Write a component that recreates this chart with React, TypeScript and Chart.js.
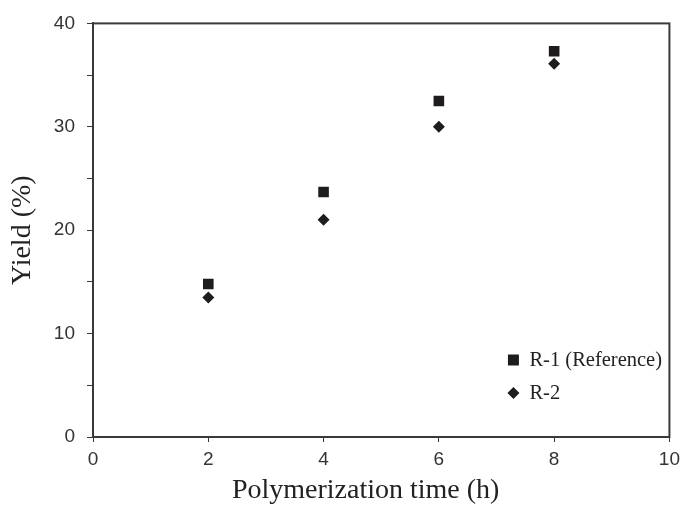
import React, { useEffect, useRef } from "react";
import { Chart, registerables } from "chart.js";

Chart.register(...registerables);

const timesH = [2, 4, 6, 8];
const yieldR1 = [14.8, 23.7, 32.5, 37.3];
const yieldR2 = [13.5, 21.0, 30.0, 36.1];
const seriesNames = ["R-1 (Reference)", "R-2"];
const xTitle = "Polymerization time (h)";
const yTitle = "Yield (%)";

const AXIS = "#3a3a3a";
const TICK_TXT = "#333333";
const MARK = "#1e1c1d";
const SERIF = "'Liberation Serif', 'Times New Roman', serif";
const SANS = "'Liberation Sans', Arial, sans-serif";

const boxAndLegend = {
  id: "boxAndLegend",
  afterDatasetsDraw(chart: any) {
    const { ctx, chartArea } = chart;
    ctx.save();
    ctx.strokeStyle = AXIS;
    ctx.lineWidth = 2;
    ctx.strokeRect(chartArea.left, chartArea.top, chartArea.right - chartArea.left, chartArea.bottom - chartArea.top);
    // x axis title (slightly left of centre, as in the original)
    ctx.fillStyle = "#222222";
    ctx.font = `28px ${SERIF}`;
    ctx.textAlign = "center";
    ctx.textBaseline = "middle";
    ctx.fillText(xTitle, chartArea.left + (chartArea.right - chartArea.left) * 0.473, chartArea.bottom + 54);
    // legend
    const lx = chartArea.right - 156;
    const rows = [chartArea.bottom - 77, chartArea.bottom - 44];
    chart.data.datasets.forEach((ds: any, i: number) => {
      const y = rows[i];
      ctx.fillStyle = MARK;
      ctx.beginPath();
      if (ds.pointStyle === "rect") {
        ctx.rect(lx - 5.5, y - 5.5, 11, 11);
      } else {
        ctx.moveTo(lx, y - 6);
        ctx.lineTo(lx + 6, y);
        ctx.lineTo(lx, y + 6);
        ctx.lineTo(lx - 6, y);
        ctx.closePath();
      }
      ctx.fill();
      ctx.fillStyle = "#222222";
      ctx.font = `20.5px ${SERIF}`;
      ctx.textBaseline = "middle";
      ctx.textAlign = "left";
      ctx.fillText(ds.label, lx + 16, y + 1);
    });
    ctx.restore();
  },
};

export default function App() {
  const ref = useRef<HTMLCanvasElement>(null);
  useEffect(() => {
    document.body.style.margin = "0";
    const chart = new Chart(ref.current as HTMLCanvasElement, {
      type: "scatter",
      data: {
        datasets: [
          {
            label: seriesNames[0],
            data: timesH.map((x, i) => ({ x, y: yieldR1[i] })),
            pointStyle: "rect",
            pointRadius: 7.5,
            backgroundColor: MARK,
            borderColor: MARK,
            borderWidth: 0,
          },
          {
            label: seriesNames[1],
            data: timesH.map((x, i) => ({ x, y: yieldR2[i] })),
            pointStyle: "rectRot",
            pointRadius: 6,
            backgroundColor: MARK,
            borderColor: MARK,
            borderWidth: 0,
          },
        ],
      },
      options: {
        responsive: false,
        animation: false,
        layout: { padding: { top: 23, right: 14, left: 0, bottom: 0 } },
        plugins: { legend: { display: false }, tooltip: { enabled: false } },
        scales: {
          x: {
            type: "linear",
            min: 0,
            max: 10,
            ticks: { stepSize: 2, color: TICK_TXT, font: { size: 19, family: SANS }, padding: 6, autoSkip: false, maxRotation: 0 },
            grid: { drawOnChartArea: false, drawTicks: true, tickLength: 5, color: AXIS, tickWidth: 1 },
            border: { display: true, color: AXIS, width: 2 },
            title: { display: false, text: xTitle },
            afterFit(scale: any) { scale.height = 71; },
          },
          y: {
            type: "linear",
            min: 0,
            max: 40,
            ticks: {
              stepSize: 5,
              color: TICK_TXT,
              font: { size: 19, family: SANS },
              padding: 12,
              autoSkip: false,
              callback: (v: any) => (Number(v) % 10 === 0 ? String(v) : ""),
            },
            grid: { drawOnChartArea: false, drawTicks: true, tickLength: 6, color: AXIS, tickWidth: 1 },
            border: { display: true, color: AXIS, width: 2 },
            title: { display: true, text: yTitle, color: "#222222", font: { size: 28, family: SERIF, lineHeight: 1 }, padding: { top: 9, bottom: 0 } },
            afterFit(scale: any) { scale.width = 93; },
          },
        },
      },
      plugins: [boxAndLegend],
    } as any);
    return () => chart.destroy();
  }, []);
  return (
    <div style={{ width: 686, height: 508, background: "#fff" }}>
      <canvas ref={ref} width={686} height={508} />
    </div>
  );
}
